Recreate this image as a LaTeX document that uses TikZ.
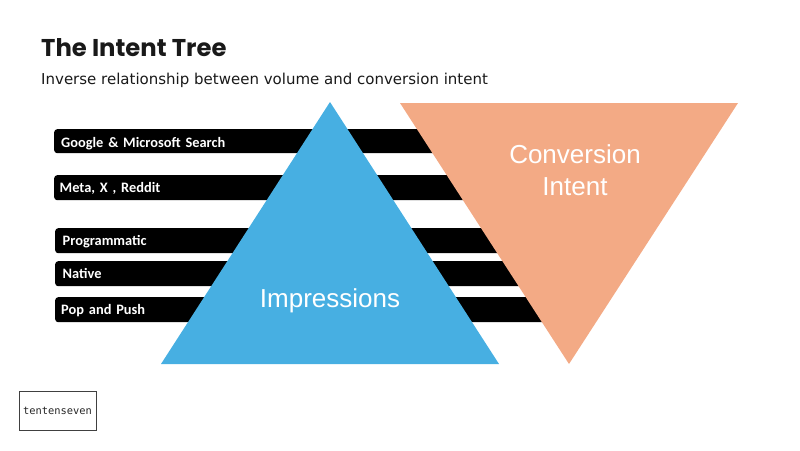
\documentclass[tikz,border=0pt]{standalone}
\usepackage{fontspec}
\setmainfont{Liberation Sans}
\newfontfamily\titlefont{Poppins}
\newfontfamily\subfont{DejaVu Sans}
\newfontfamily\barfont{Carlito}
\newfontfamily\logofont{DejaVu Sans Mono}
\definecolor{impblue}{HTML}{47AFE2}
\definecolor{convorange}{HTML}{F3AA85}
\begin{document}
\begin{tikzpicture}[
  x=1pt, y=-1pt,
  bar/.style={anchor=north west, fill=black, text=white, rounded corners=3pt, text width=500pt, text height=17pt, text depth=8pt, inner xsep=0pt, inner ysep=0pt, align=left, font=\barfont\bfseries\fontsize{14.4}{15}\selectfont},
  lab/.style={text=white, align=center, font=\fontsize{26}{32}\selectfont},
  tri/.style={fill=#1, draw=none}
]
\useasboundingbox (0,0) rectangle (800,450);

\node[anchor=base west, inner sep=0pt, font=\titlefont\bfseries\fontsize{24.3}{30}\selectfont, text=black!90] (title) at (41,56) {The Intent Tree};
\node[anchor=base west, inner sep=0pt, font=\subfont\fontsize{15}{18}\selectfont, text=black!90] (sub) at (41,84) {Inverse relationship between volume and conversion intent};

% bars behind the triangles
\node[bar, text height=18pt, text depth=6pt] (b1) at (54,129) {\hspace{7pt}Google \& Microsoft Search};
\node[bar] (b2) at (54,175) {\hspace{5.5pt}Meta, X , Reddit};
\node[bar] (b3) at (55,228) {\hspace{7.5pt}Programmatic};
\node[bar] (b4) at (55,261) {\hspace{7.5pt}Native};
\node[bar] (b5) at (55,297) {\hspace{6pt}Pop and Push};

% triangles
\coordinate (i1) at (330,102);
\coordinate (i2) at (499,364);
\coordinate (i3) at (161,364);
\coordinate (c1) at (400,103);
\coordinate (c2) at (738,103);
\coordinate (c3) at (569,364);
\fill[tri=impblue] (i1) -- (i2) -- (i3) -- cycle;
\fill[tri=convorange] (c1) -- (c2) -- (c3) -- cycle;

\node[lab] (imp) at (330,301) {Impressions};
\node[lab] (conv) at (575,170.5) {Conversion\\Intent};

% logo
\node[draw=black!75, line width=0.8pt, minimum width=77pt, minimum height=39pt, inner sep=0pt, font=\logofont\fontsize{10.4}{12}\selectfont, text=black!85] (logo) at (57.5,411) {tentenseven};
\end{tikzpicture}
\end{document}
